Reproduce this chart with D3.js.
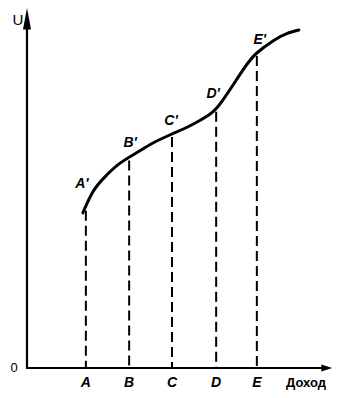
<!DOCTYPE html>
<html><head><meta charset="utf-8">
<script src="https://cdn.jsdelivr.net/npm/d3@7"></script>
<style>body{margin:0;background:#fff} text{font-family:"Liberation Sans",Arial,sans-serif;fill:#000}</style>
</head><body><svg id="chart"></svg>
<script>
// utility curve U(income)
const incomeX=[1.29,1.52,1.8,2.15,2.52,2.91,3.35,3.8,4.2,4.5,4.99,5.31,5.7,6.0,6.28];
const utilityY=[4.31,4.89,5.31,5.69,5.97,6.25,6.5,6.75,7.03,7.4,8.28,8.75,9.1,9.29,9.39];
const marks=['A','B','C','D','E'];
const markX=[1.36,2.36,3.35,4.37,5.31];
const markY=[4.45,5.85,6.5,7.2,8.75];

const W=350,H=398;
const svg=d3.select('#chart').attr('width',W).attr('height',H);
const x=d3.scaleLinear().domain([0,7]).range([27,330]);
const y=d3.scaleLinear().domain([0,10]).range([368,8]);

// dashed drops
svg.selectAll('.drop').data(marks).enter().append('line').attr('class','drop')
  .attr('x1',(d,i)=>x(markX[i])).attr('x2',(d,i)=>x(markX[i]))
  .attr('y1',(d,i)=>y(markY[i])+3).attr('y2',y(0))
  .attr('stroke','#000').attr('stroke-width',2).attr('stroke-dasharray','10,5');

// axes
svg.append('line').attr('x1',x(0)).attr('x2',x(0)).attr('y1',y(0)+1).attr('y2',y(9.6)).attr('stroke','#000').attr('stroke-width',2.2);
svg.append('line').attr('x1',x(0)-1).attr('x2',x(6.9)).attr('y1',y(0)).attr('y2',y(0)).attr('stroke','#000').attr('stroke-width',2.2);
svg.append('path').attr('d',`M${x(0)},${y(10)} L${x(0)-4},${y(9.4)} L${x(0)+4},${y(9.4)} Z`).attr('fill','#000');
svg.append('path').attr('d',`M${x(7.05)},${y(0)} L${x(6.8)},${y(0)-3.5} L${x(6.8)},${y(0)+3.5} Z`).attr('fill','#000');

// curve
const line=d3.line().x(d=>x(d[0])).y(d=>y(d[1])).curve(d3.curveNatural);
svg.append('path').datum(incomeX.map((v,i)=>[v,utilityY[i]])).attr('d',line)
  .attr('fill','none').attr('stroke','#000').attr('stroke-width',3).attr('stroke-linecap','round');

// labels
const off=[[-4,-20],[1,-10],[-1,-9],[-3,-11],[3,-9]];
svg.selectAll('.pl').data(marks).enter().append('text').attr('class','pl')
  .attr('x',(d,i)=>x(markX[i])+off[i][0]).attr('y',(d,i)=>y(markY[i])+off[i][1])
  .attr('text-anchor','middle').attr('font-size',14).attr('font-weight','bold').attr('font-style','italic')
  .text(d=>d+"'");
svg.selectAll('.xl').data(marks).enter().append('text').attr('class','xl')
  .attr('x',(d,i)=>x(markX[i])).attr('y',387)
  .attr('text-anchor','middle').attr('font-size',14).attr('font-weight','bold').attr('font-style','italic')
  .text(d=>d);
svg.append('text').attr('x',306).attr('y',387).attr('text-anchor','middle').attr('font-size',13).attr('font-weight','bold').text('Доход');
svg.append('text').attr('x',14).attr('y',372).attr('text-anchor','middle').attr('font-size',13).text('0');
svg.append('text').attr('x',18).attr('y',25).attr('text-anchor','middle').attr('font-size',15).text('U');
</script></body></html>
